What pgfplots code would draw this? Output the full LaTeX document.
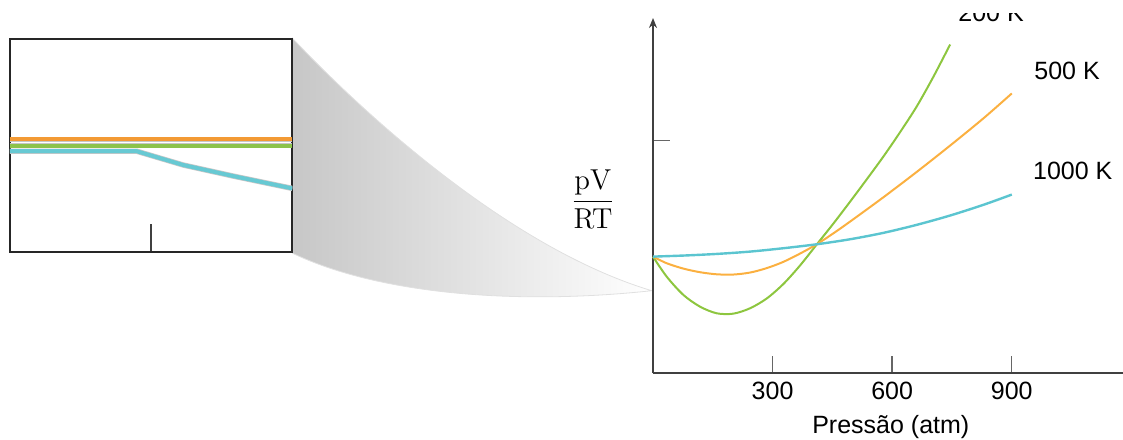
\documentclass[border=0pt]{standalone}
\usepackage[no-math]{fontspec}
\setmainfont{Liberation Sans}
\usepackage{pgfplots}
\pgfplotsset{compat=1.18}
\usetikzlibrary{arrows.meta}
\definecolor{gA}{HTML}{8DC63F}
\definecolor{oA}{HTML}{FBB040}
\definecolor{cA}{HTML}{5BC5D0}
\definecolor{oI}{HTML}{F39A34}
\definecolor{gI}{HTML}{8CC34B}
\definecolor{cI}{HTML}{67C9D3}
\begin{document}
\begin{tikzpicture}
\useasboundingbox (0,0) rectangle (561.5pt,219.5pt);
% zoom funnel (decoration)
\begin{scope}[x=0.5pt,y=-0.5pt,shift={(0,219.5pt)}]
\shade[left color=black!22, right color=white, draw=black!12, line width=0.4pt]
 (292.5,38.3) .. controls (365,115) and (510,248) .. (651.7,290.7)
 .. controls (520,305) and (380,295) .. (292.7,253.3) -- cycle;
\end{scope}
% inset
\begin{axis}[at={(5pt,93.65pt)}, anchor=south west, scale only axis,
 width=141.15pt, height=106.2pt,
 xmin=0, xmax=10, ymin=0, ymax=10,
 axis line style={draw=black!85, line width=1pt},
 xtick={5}, xticklabels={}, ytick=\empty, xtick pos=left,
 tick align=inside, major tick length=13.7pt,
 x tick style={draw=black!75, line width=0.8pt},
 clip=true]
\addplot[black!22, line width=2.7pt] coordinates {(0,5.29) (10,5.29)};
\addplot[oI, line width=2pt] coordinates {(0,5.29) (10,5.29)};
\addplot[black!22, line width=2.7pt] coordinates {(0,4.99) (10,4.99)};
\addplot[gI, line width=2pt] coordinates {(0,4.99) (10,4.99)};
\addplot[black!22, line width=2.7pt] coordinates {(0,4.73) (4.49,4.73) (6.14,4.08) (7.91,3.56) (10,2.98)};
\addplot[cI, line width=2pt] coordinates {(0,4.73) (4.49,4.73) (6.14,4.08) (7.91,3.56) (10,2.98)};
\end{axis}
% main axis
\begin{axis}[at={(326.5pt,33pt)}, anchor=south west, scale only axis,
 width=235pt, height=177.5pt,
 xmin=0, xmax=1179, ymin=0, ymax=3.05,
 axis x line=bottom, axis y line=left,
 x axis line style={-, draw=black!75, line width=0.8pt},
 y axis line style={-{Stealth[length=5pt,width=4pt]}, draw=black!75, line width=0.8pt},
 xtick={300,600,900}, ytick={2}, yticklabels={},
 tick align=inside, major tick length=8.5pt,
 tick style={draw=black!60, line width=0.7pt},
 xticklabel style={anchor=base, yshift=-13pt, font=\fontsize{12.5}{15}\selectfont},
 /pgf/number format/assume math mode=true,
 clip=false]
% 200 K
\addplot[smooth, gA, line width=1pt] coordinates {(0,1.000) (34.3,0.828) (76.1,0.671) (117.9,0.570) (159.8,0.513) (201.6,0.510) (243.4,0.556) (285.2,0.640) (327.1,0.765) (368.9,0.924) (410.7,1.104) (452.5,1.284) (494.4,1.472) (536.2,1.664) (578.0,1.860) (619.8,2.069) (661.7,2.291) (703.5,2.546) (745.3,2.822)};
% 500 K
\addplot[smooth, oA, line width=1pt] coordinates {(0,1.000) (34.3,0.943) (76.1,0.897) (117.9,0.866) (159.8,0.848) (201.6,0.846) (243.4,0.863) (285.2,0.901) (327.1,0.955) (368.9,1.026) (410.7,1.106) (452.5,1.200) (494.4,1.301) (578.0,1.510) (661.7,1.728) (745.3,1.954) (828.9,2.188) (900.1,2.402)};
% 1000 K
\addplot[smooth, cA, line width=1.2pt] coordinates {(0,1.000) (76.1,1.009) (159.8,1.023) (243.4,1.043) (327.1,1.072) (410.7,1.106) (494.4,1.149) (578.0,1.204) (661.7,1.273) (745.3,1.353) (828.9,1.445) (900.1,1.533)};
\end{axis}
% labels
\begin{scope}[x=0.5pt,y=-0.5pt,shift={(0,219.5pt)}, every node/.style={font=\fontsize{12.5}{15}\selectfont, inner sep=0pt}]
\node[anchor=base west] at (958,21.5) {200 K};
\fill[white] (930,0) rectangle (1080,13);
\node[anchor=base west] at (1034,79.3) {500 K};
\node[anchor=base west] at (1032.7,179.3) {1000 K};
\node[anchor=base] at (890.8,433) {Pressão (atm)};
\node at (593,199) {\fontsize{13.5}{16}\selectfont$\displaystyle\frac{\mathrm{pV}}{\mathrm{RT}}$};
\end{scope}
\end{tikzpicture}
\end{document}
